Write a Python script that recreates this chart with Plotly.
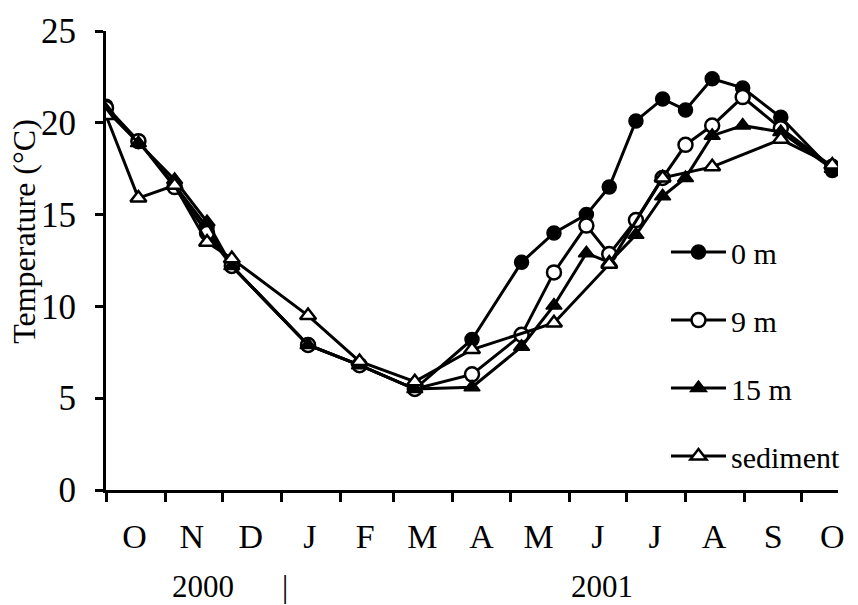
import plotly.graph_objects as go

dates = ["2000-10-01", "2000-10-18", "2000-11-06", "2000-11-23", "2000-12-06",
         "2001-01-15", "2001-02-11", "2001-03-12", "2001-04-11", "2001-05-07",
         "2001-05-24", "2001-06-10", "2001-06-22", "2001-07-06", "2001-07-20",
         "2001-08-01", "2001-08-15", "2001-08-31", "2001-09-20", "2001-10-17"]

temp_0m = [20.9, 19.0, 16.6, 14.3, 12.2, 7.9, 6.8, 5.5, 8.2, 12.4,
           14.0, 15.0, 16.5, 20.1, 21.3, 20.7, 22.4, 21.9, 20.3, 17.4]
temp_9m = [20.8, 19.0, 16.5, 14.0, 12.2, 7.9, 6.8, 5.5, 6.3, 8.45,
           11.85, 14.4, 12.85, 14.7, 17.0, 18.8, 19.85, 21.4, 19.7, 17.6]
temp_15m = [20.7, 18.9, 16.9, 14.6, 12.2, 7.9, 6.8, 5.5, 5.6, 7.8,
            10.05, 12.9, 12.4, 13.9, 16.0, 17.0, 19.3, 19.85, 19.5, 17.5]
temp_sed = [20.4, 15.9, 16.6, 13.5, 12.6, 9.5, 7.0, 5.9, 7.65, None,
            9.1, None, 12.3, None, 17.0, None, 17.6, None, 19.1, 17.7]

series_names = ["0 m", "9 m", "15 m", "sediment"]

# Month tick labels (placed mid-month) and month boundaries for the tick marks
month_label_dates = ["2000-10-16", "2000-11-15", "2000-12-16", "2001-01-16",
                     "2001-02-14", "2001-03-16", "2001-04-16", "2001-05-16",
                     "2001-06-16", "2001-07-16", "2001-08-16", "2001-09-16",
                     "2001-10-17"]
month_labels = ["O", "N", "D", "J", "F", "M", "A", "M", "J", "J", "A", "S", "O"]
month_starts = ["2000-10-01", "2000-11-01", "2000-12-01", "2001-01-01",
                "2001-02-01", "2001-03-01", "2001-04-01", "2001-05-01",
                "2001-06-01", "2001-07-01", "2001-08-01", "2001-09-01",
                "2001-10-01"]

FONT = "Liberation Serif"

fig = go.Figure()

styles = [
    dict(symbol="circle", color="black", line=dict(color="black", width=1.5)),
    dict(symbol="circle", color="white", line=dict(color="black", width=2.5)),
    dict(symbol="triangle-up", color="black", line=dict(color="black", width=1.5)),
    dict(symbol="triangle-up", color="white", line=dict(color="black", width=2.5)),
]
all_series = [temp_0m, temp_9m, temp_15m, temp_sed]

for i, (name, vals, st) in enumerate(zip(series_names, all_series, styles)):
    fig.add_trace(go.Scatter(
        x=dates, y=vals, name=name, mode="lines+markers",
        connectgaps=True,
        legendgroup=f"g{i}",
        line=dict(color="black", width=3),
        marker=dict(size=14, symbol=st["symbol"], color=st["color"], line=st["line"]),
    ))

fig.update_layout(
    width=858, height=605,
    margin=dict(l=106, r=20, t=25, b=115),
    paper_bgcolor="white", plot_bgcolor="white",
    font=dict(family=FONT, color="black", size=30),
    showlegend=True,
    legend=dict(
        x=0.765, y=0.575, xanchor="left", yanchor="top",
        bgcolor="rgba(0,0,0,0)", font=dict(size=30, family=FONT, color="black"),
        tracegroupgap=26, itemwidth=55,
    ),
    xaxis=dict(
        type="date",
        range=["2000-10-01", "2001-10-20"],
        showline=True, linecolor="black", linewidth=3,
        showgrid=False, zeroline=False,
        tickmode="array", tickvals=month_label_dates, ticktext=month_labels,
        ticks="", ticklabelstandoff=14,
        tickfont=dict(size=34, family=FONT, color="black"),
        minor=dict(tickmode="array", tickvals=month_starts, ticks="outside",
                   ticklen=9, tickwidth=3, tickcolor="black", showgrid=False),
    ),
    yaxis=dict(
        range=[0, 25], tickmode="linear", tick0=0, dtick=5,
        showline=True, linecolor="black", linewidth=3,
        showgrid=False, zeroline=False,
        ticks="outside", ticklen=8, tickwidth=3, tickcolor="black",
        tickfont=dict(size=35, family=FONT, color="black"), ticklabelstandoff=12,
    ),
)

fig.add_annotation(text="Temperature (\u00b0C)", textangle=-90,
                   xref="paper", yref="paper", x=-0.113, y=0.563,
                   xanchor="center", yanchor="middle", showarrow=False,
                   font=dict(size=32, family=FONT, color="black"))

for txt, xpos in [("2000", "2000-11-21"), ("|", "2001-01-03"), ("2001", "2001-06-18")]:
    fig.add_annotation(text=txt, xref="x", yref="paper", x=xpos, y=-0.211,
                       xanchor="center", yanchor="middle", showarrow=False,
                       font=dict(size=31, family=FONT, color="black"))

fig.write_html("out.html")
